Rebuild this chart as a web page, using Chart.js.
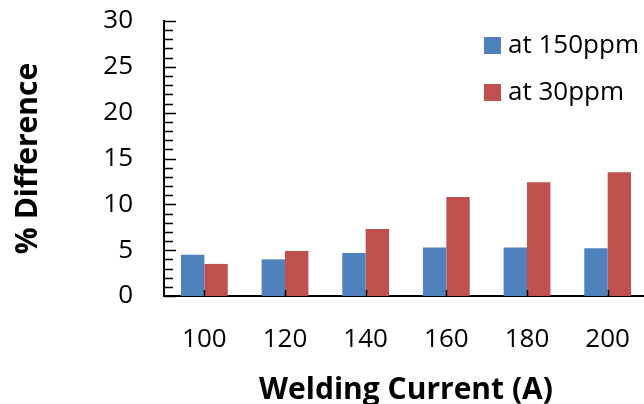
<!DOCTYPE html>
<html>
<head>
<meta charset="utf-8">
<script src="https://cdn.jsdelivr.net/npm/chart.js@4.4.1/dist/chart.umd.min.js"></script>
<style>
  html, body { margin: 0; padding: 0; background: #fff; overflow: hidden; }
  #wrap { width: 652px; height: 404px; position: relative; }
</style>
</head>
<body>
<div id="wrap"><canvas id="chart"></canvas></div>
<script>
const currents = ["100", "120", "140", "160", "180", "200"];
const diff150 = [4.5, 4.0, 4.7, 5.3, 5.3, 5.2];
const diff30 = [3.5, 4.9, 7.3, 10.8, 12.4, 13.5];
const seriesNames = ["at 150ppm", "at 30ppm"];
const seriesColors = ["#4F81BD", "#C0504D"];
const yMax = 30;
const yMajorStep = 5;

const FONT = "'Open Sans', 'Liberation Sans', sans-serif";

// tick marks pointing into the plot, long ones at the labelled values
const innerTicks = {
  id: "innerTicks",
  afterDatasetsDraw(chart) {
    const { ctx, chartArea, scales: { x, y } } = chart;
    ctx.save();
    ctx.strokeStyle = "#000";
    ctx.lineWidth = 1.5;
    ctx.beginPath();
    y.ticks.forEach((t) => {
      const py = Math.round(y.getPixelForValue(t.value)) + 0.5;
      const len = t.value % yMajorStep === 0 ? 12 : 9;
      ctx.moveTo(chartArea.left, py);
      ctx.lineTo(chartArea.left + len, py);
    });
    x.ticks.forEach((t, i) => {
      const px = Math.round(x.getPixelForTick(i)) + 0.5;
      ctx.moveTo(px, chartArea.bottom);
      ctx.lineTo(px, chartArea.bottom - 6);
    });
    ctx.stroke();
    ctx.restore();
  },
};

// legend in the upper right, over the plot
const cornerLegend = {
  id: "cornerLegend",
  afterDraw(chart) {
    const ctx = chart.ctx;
    ctx.save();
    ctx.font = "26px " + FONT;
    ctx.textBaseline = "middle";
    chart.data.datasets.forEach((ds, i) => {
      const cy = 45 + i * 47;
      ctx.fillStyle = ds.backgroundColor;
      ctx.fillRect(484, cy - 8, 17, 17);
      ctx.fillStyle = "#000";
      ctx.fillText(ds.label, 508, cy + 1);
    });
    ctx.restore();
  },
};

new Chart(document.getElementById("chart"), {
  type: "bar",
  data: {
    labels: currents,
    datasets: [
      { label: seriesNames[0], data: diff150, backgroundColor: seriesColors[0] },
      { label: seriesNames[1], data: diff30, backgroundColor: seriesColors[1] },
    ],
  },
  options: {
    responsive: true,
    maintainAspectRatio: false,
    animation: false,
    layout: { padding: { top: 21, right: 4, left: 0, bottom: 0 } },
    datasets: { bar: { categoryPercentage: 0.58, barPercentage: 1 } },
    plugins: {
      legend: { display: false },
      tooltip: { enabled: false },
    },
    scales: {
      x: {
        grid: { display: false, drawTicks: false },
        border: { display: true, color: "#000", width: 2 },
        ticks: { color: "#000", font: { family: FONT, size: 26 }, padding: 28, maxRotation: 0 },
        title: {
          display: true,
          text: "Welding Current (A)",
          color: "#000",
          font: { family: FONT, size: 30, weight: "bold" },
          padding: { top: 0, bottom: -4 },
        },
        afterFit(scale) {
          scale.height = 108;
          scale.paddingLeft = 0;
          scale.paddingRight = 0;
        },
      },
      y: {
        min: 0,
        max: yMax,
        grid: { display: false, drawTicks: false },
        border: { display: true, color: "#000", width: 2 },
        ticks: {
          stepSize: 1,
          autoSkip: false,
          color: "#000",
          font: { family: FONT, size: 26 },
          padding: 31,
          callback: (v) => (v % yMajorStep === 0 ? v : ""),
        },
        title: {
          display: true,
          text: "% Difference",
          color: "#000",
          font: { family: FONT, size: 30, weight: "bold" },
          padding: { top: 10, bottom: 0 },
        },
        afterFit(scale) {
          scale.width = 164;
          scale.paddingTop = 0;
          scale.paddingBottom = 0;
        },
      },
    },
  },
  plugins: [innerTicks, cornerLegend],
});
</script>
</body>
</html>
